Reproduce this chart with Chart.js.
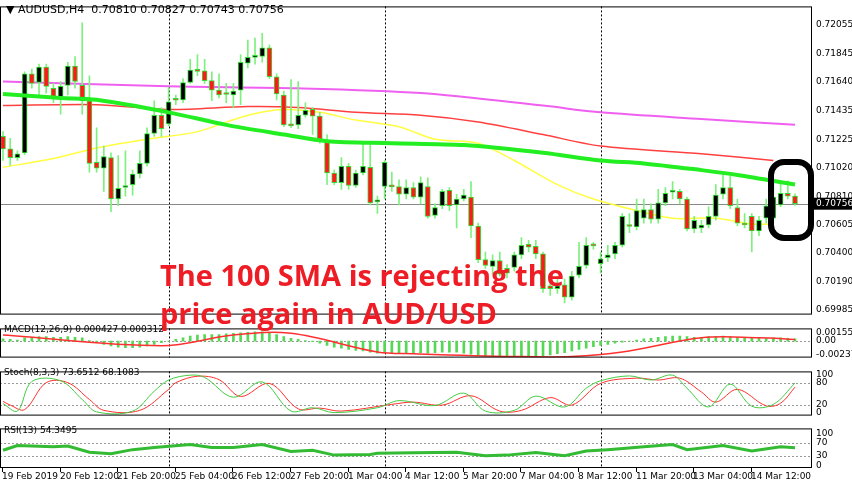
<!DOCTYPE html>
<html><head><meta charset="utf-8">
<script src="https://cdn.jsdelivr.net/npm/chart.js@4/dist/chart.umd.min.js"></script>
<style>
body{margin:0;width:852px;height:485px;background:#fff;position:relative;overflow:hidden;font-family:"DejaVu Sans",sans-serif}
.w{position:absolute;left:0;width:852px}
.t{position:absolute;font-size:10px;color:#000;white-space:pre}
</style></head><body>
<div class="w" style="top:0;height:321px"><canvas id="main" width="852" height="321"></canvas></div>
<div class="w" style="top:322px;height:42px"><canvas id="macd" width="852" height="42"></canvas></div>
<div class="w" style="top:365px;height:57px"><canvas id="stoch" width="852" height="57"></canvas></div>
<div class="w" style="top:422px;height:63px"><canvas id="rsi" width="852" height="63"></canvas></div>
<div class="t" style="left:6px;top:3px;font-size:11px">▼ AUDUSD,H4  0.70810 0.70827 0.70743 0.70756</div>
<div class="t" style="left:4px;top:324px;font-size:9px">MACD(12,26,9) 0.000427 0.000312</div>
<div class="t" style="left:4px;top:367px;font-size:9px">Stoch(8,3,3) 73.6512 68.1083</div>
<div class="t" style="left:4px;top:425px;font-size:9px">RSI(13) 54.3495</div>
<div style="position:absolute;left:768px;top:159px;width:34px;height:70px;border:6px solid #000;border-radius:16px"></div>
<div style="position:absolute;left:160px;top:256px;font:bold 29px 'Open Sans',sans-serif;color:#ee1c25;line-height:38px;white-space:pre">The 100 SMA is rejecting the
price again in AUD/USD</div>
<script>
const opens=[0.71245,0.71154,0.71091,0.71126,0.71700,0.71637,0.71749,0.71595,0.71532,0.71616,0.71756,0.71616,0.71504,0.71056,0.71014,0.71091,0.70790,0.70874,0.70895,0.70972,0.71049,0.71266,0.71399,0.71336,0.71511,0.71511,0.71637,0.71721,0.71721,0.71651,0.71581,0.71553,0.71546,0.71581,0.71777,0.71819,0.71826,0.71889,0.71679,0.71546,0.71336,0.71329,0.71399,0.71441,0.71392,0.71210,0.70979,0.70909,0.71028,0.70888,0.70979,0.71021,0.70769,0.70881,0.70881,0.70881,0.70825,0.70874,0.70804,0.70881,0.70671,0.70741,0.70853,0.70748,0.70790,0.70804,0.70594,0.70349,0.70300,0.70342,0.70286,0.70293,0.70384,0.70461,0.70447,0.70391,0.70160,0.70139,0.70167,0.70076,0.70237,0.70307,0.70454,0.70321,0.70363,0.70391,0.70454,0.70594,0.70587,0.70650,0.70713,0.70643,0.70762,0.70839,0.70846,0.70790,0.70573,0.70580,0.70601,0.70664,0.70825,0.70874,0.70727,0.70608,0.70664,0.70559,0.70650,0.70650,0.70748,0.70832,0.70811];
const highs=[0.71280,0.71231,0.71140,0.71714,0.71735,0.71770,0.71770,0.71630,0.71644,0.71784,0.71826,0.72071,0.71686,0.71308,0.71175,0.71126,0.71105,0.71140,0.71000,0.71140,0.71308,0.71504,0.71455,0.71602,0.71546,0.71665,0.71805,0.71840,0.71805,0.71714,0.71700,0.71630,0.71630,0.71840,0.71945,0.71959,0.71994,0.71910,0.71700,0.71574,0.71658,0.71644,0.71490,0.71455,0.71420,0.71259,0.71000,0.71091,0.71049,0.71000,0.71210,0.71210,0.70811,0.71070,0.70986,0.70930,0.70930,0.70909,0.70951,0.70944,0.70755,0.70860,0.70874,0.70825,0.70860,0.70916,0.70615,0.70405,0.70384,0.70405,0.70314,0.70405,0.70510,0.70489,0.70489,0.70405,0.70195,0.70209,0.70209,0.70265,0.70475,0.70510,0.70475,0.70405,0.70454,0.70475,0.70685,0.70685,0.70790,0.70790,0.70755,0.70860,0.70874,0.70916,0.70860,0.70804,0.70664,0.70636,0.70734,0.70895,0.70986,0.70979,0.70790,0.70685,0.70685,0.70664,0.70790,0.70895,0.70916,0.70923,0.70827];
const lows=[0.71070,0.71035,0.71070,0.71112,0.71595,0.71546,0.71560,0.71490,0.71406,0.71546,0.71595,0.71406,0.70986,0.70986,0.70846,0.70699,0.70741,0.70811,0.70818,0.70944,0.71028,0.71245,0.71245,0.71322,0.71476,0.71490,0.71630,0.71686,0.71630,0.71504,0.71525,0.71490,0.71455,0.71476,0.71742,0.71770,0.71784,0.71665,0.71511,0.71315,0.71308,0.71301,0.71385,0.71259,0.71196,0.70895,0.70895,0.70860,0.70860,0.70874,0.70965,0.70748,0.70685,0.70790,0.70846,0.70748,0.70790,0.70790,0.70755,0.70650,0.70650,0.70720,0.70706,0.70580,0.70776,0.70510,0.70328,0.70286,0.70244,0.70230,0.70216,0.70265,0.70356,0.70405,0.70356,0.70111,0.70090,0.70104,0.70034,0.70055,0.70216,0.70286,0.70426,0.70251,0.70335,0.70356,0.70440,0.70545,0.70566,0.70615,0.70615,0.70615,0.70741,0.70790,0.70755,0.70559,0.70545,0.70545,0.70580,0.70636,0.70790,0.70720,0.70594,0.70580,0.70405,0.70524,0.70615,0.70636,0.70734,0.70790,0.70743];
const closes=[0.71154,0.71091,0.71119,0.71700,0.71630,0.71749,0.71609,0.71532,0.71609,0.71756,0.71644,0.71504,0.71049,0.71014,0.71098,0.70790,0.70867,0.70888,0.70972,0.71049,0.71266,0.71399,0.71301,0.71497,0.71508,0.71637,0.71728,0.71718,0.71651,0.71581,0.71546,0.71550,0.71574,0.71784,0.71819,0.71833,0.71889,0.71679,0.71553,0.71329,0.71322,0.71399,0.71434,0.71392,0.71210,0.70979,0.70909,0.71028,0.70888,0.70979,0.71028,0.70762,0.70783,0.71056,0.70878,0.70825,0.70874,0.70804,0.70909,0.70664,0.70727,0.70846,0.70741,0.70790,0.70818,0.70594,0.70349,0.70307,0.70342,0.70244,0.70251,0.70384,0.70454,0.70440,0.70391,0.70139,0.70139,0.70160,0.70076,0.70230,0.70300,0.70454,0.70450,0.70356,0.70384,0.70454,0.70664,0.70590,0.70706,0.70713,0.70643,0.70762,0.70832,0.70846,0.70790,0.70573,0.70636,0.70601,0.70664,0.70818,0.70874,0.70741,0.70615,0.70601,0.70559,0.70636,0.70741,0.70804,0.70832,0.70811,0.70756];
// moving averages: [bar, value]
const smaMagenta=[[1,0.71644],[24,0.71609],[42,0.71595],[59,0.71560],[76,0.71469],[84,0.71420],[98,0.71371],[111,0.71329]];
const smaRed=[[1,0.71469],[14,0.71476],[24,0.71441],[35,0.71462],[42,0.71455],[50,0.71420],[59,0.71399],[67,0.71350],[76,0.71259],[84,0.71175],[98,0.71119],[108,0.71070]];
const sma100=[[1,0.71553],[9,0.71525],[14,0.71511],[24,0.71420],[32,0.71329],[40,0.71259],[46,0.71210],[55,0.71196],[65,0.71182],[76,0.71126],[84,0.71070],[90,0.71049],[98,0.71000],[103,0.70965],[111,0.70895]];
const smaYellow=[[1,0.71021],[8,0.71084],[14,0.71161],[21,0.71224],[28,0.71280],[35,0.71399],[40,0.71441],[45,0.71420],[50,0.71364],[56,0.71315],[61,0.71224],[67,0.71196],[72,0.71070],[78,0.70895],[83,0.70790],[89,0.70706],[94,0.70650],[100,0.70650],[105,0.70608],[108,0.70608]];
const priceTicks=[0.72055,0.71845,0.71640,0.71435,0.71225,0.71020,0.70810,0.70605,0.70400,0.70190,0.69985];
const lastPrice=0.70756;
const macdHist=[0.0004,0.0003,0.0002,0.0006,0.0007,0.0008,0.0008,0.0007,0.0007,0.0008,0.0007,0.0006,0.0001,-0.0003,
-0.0006,-0.0009,-0.0011,-0.0012,-0.0012,-0.0011,-0.0009,-0.0006,-0.0003,
0.0000,0.0003,0.0006,0.0009,0.0011,0.0012,0.0012,0.0012,0.0013,0.0014,0.0015,0.0016,0.0017,0.0017,0.0015,0.0012,0.0008,0.0005,0.0003,0.0001,-0.0001,
-0.0004,-0.0008,-0.0011,-0.0013,-0.0015,-0.0017,-0.0018,-0.0020,-0.0022,-0.0021,
-0.0021,-0.0021,-0.0021,-0.0022,-0.0021,-0.0022,-0.0021,-0.0020,-0.0020,-0.0020,
-0.0022,-0.0024,-0.0026,-0.0027,-0.0028,-0.0028,-0.0028,-0.0028,-0.0028,-0.0027,
-0.0027,-0.0027,-0.0025,-0.0023,-0.0021,-0.0018,-0.0015,-0.0013,-0.0010,
-0.0008,-0.0006,-0.0004,-0.0002,0.0000,0.0002,0.0004,0.0005,0.0007,0.0008,0.0009,0.0009,0.0008,0.0007,0.0007,0.0008,0.0008,0.0009,0.0008,0.0007,0.0006,0.0005,0.0005,0.0005,0.0006,0.0006,0.0005,0.0004];
const macdSignal=[[1,0.0011],[23,-0.00085],[33,0.0011],[41,0.0014],[53,-0.0020],[58,-0.0023],[72,-0.0028],[80,-0.0028],[87,-0.0020],[98,0.0006],[106,0.0006],[111,0.0003]];
const macdTicks=[0.001559,0,-0.002377];
const stochMain=[[1,24],[3,4],[5,83],[9,85],[12,35],[14,2],[19,4],[22,57],[24,87],[27,100],[29,94],[33,41],[37,82],[41,4],[44,13],[47,0],[53,13],[56,32],[61,19],[65,52],[68,4],[72,6],[75,44],[79,15],[82,65],[84,85],[88,98],[91,87],[94,100],[96,65],[99,15],[102,76],[105,17],[108,22],[111,79]];
const stochSignal=[[1,30],[2,20],[4,8],[7,80],[10,80],[13,35],[15,6],[20,6],[24,62],[25,80],[28,97],[31,88],[34,43],[38,78],[42,10],[45,12],[48,4],[55,22],[58,28],[62,20],[66,45],[70,4],[73,6],[77,40],[80,20],[84,78],[89,92],[92,87],[95,92],[98,55],[100,28],[103,62],[107,18],[109,25],[111,68]];
const rsiLine=[[1,47],[3,62],[8,58],[10,60],[13,41],[16,36],[19,49],[22,56],[27,65],[30,56],[33,56],[37,65],[41,43],[44,47],[47,32],[52,34],[53,38],[58,39],[64,41],[68,30],[71,32],[75,40],[79,30],[82,45],[85,49],[90,58],[94,65],[96,49],[101,62],[105,45],[109,58],[111,55]];
const dateLabels=['19 Feb 2019','20 Feb 12:00','21 Feb 20:00','25 Feb 04:00','26 Feb 12:00','27 Feb 20:00','1 Mar 04:00','4 Mar 12:00','5 Mar 20:00','7 Mar 04:00','8 Mar 12:00','11 Mar 20:00','13 Mar 04:00','14 Mar 12:00'];
const dateBars=[1,9,17,25,33,41,49,57,65,73,81,89,97,105];
const sepBars=[24,54,84];

const XMIN=0.58,XMAX=113.36;
const pts=a=>a.map(p=>({x:p[0],y:p[1]}));
const bars=opens.map((o,i)=>i+1);
const frame={id:'frame',
 beforeDatasetsDraw(c){const a=c.chartArea,x=c.scales.x,ctx=c.ctx;ctx.save();ctx.strokeStyle='#000';ctx.setLineDash([2,2]);ctx.lineWidth=1;
  sepBars.forEach(b=>{const px=Math.round(x.getPixelForValue(b))+0.5;ctx.beginPath();ctx.moveTo(px,a.top);ctx.lineTo(px,a.bottom);ctx.stroke();});ctx.restore();},
 afterDraw(c){const a=c.chartArea,ctx=c.ctx;ctx.save();ctx.strokeStyle='#000';ctx.lineWidth=1;ctx.strokeRect(a.left+0.5,a.top+0.5,a.width-1,a.height-1);ctx.restore();}};
function yAxis(min,max,ticks,fmt){return {position:'right',min,max,grid:{display:false,drawTicks:true,tickLength:3,tickColor:'#000'},border:{display:false},
 afterBuildTicks:s=>{s.ticks=ticks.map(v=>({value:v}));},afterFit:s=>{s.width=40;},
 ticks:{color:'#000',font:{size:9,family:'DejaVu Sans'},padding:1,callback:fmt,autoSkip:false}};}
const xAxis={type:'linear',min:XMIN,max:XMAX,display:false,offset:false};
const base={responsive:false,maintainAspectRatio:false,animation:false,devicePixelRatio:1,plugins:{legend:{display:false},tooltip:{enabled:false}},layout:{padding:0}};

const bodyColors=opens.map((o,i)=>closes[i]>=o?'#000':'#ff1a1a');
const hl={id:'hl',beforeDatasetsDraw(c){const y=c.scales.y,a=c.chartArea,ctx=c.ctx;const py=Math.round(y.getPixelForValue(lastPrice))+0.5;
 ctx.save();ctx.strokeStyle='#888';ctx.beginPath();ctx.moveTo(a.left,py);ctx.lineTo(a.right,py);ctx.stroke();ctx.restore();},
 afterDraw(c){const y=c.scales.y,a=c.chartArea,ctx=c.ctx;const py=y.getPixelForValue(lastPrice);ctx.save();ctx.fillStyle='#000';ctx.fillRect(a.right+1,py-6,40,12);
 ctx.fillStyle='#fff';ctx.font='9px DejaVu Sans';ctx.textBaseline='middle';ctx.fillText(lastPrice.toFixed(5),a.right+4,py);ctx.restore();}};
new Chart(document.getElementById('main'),{type:'bar',data:{datasets:[
 {type:'line',data:pts(smaMagenta),borderColor:'#f060f0',borderWidth:2,pointRadius:0,tension:0.3,order:5},
 {type:'line',data:pts(smaRed),borderColor:'#ff4040',borderWidth:1.5,pointRadius:0,tension:0.3,order:5},
 {type:'line',data:pts(smaYellow),borderColor:'#ffff40',borderWidth:1.5,pointRadius:0,tension:0.3,order:5},
 {type:'line',data:pts(sma100),borderColor:'#22ee22',borderWidth:4,pointRadius:0,tension:0.3,order:0},
 {data:bars.map((b,i)=>({x:b,y:[lows[i],highs[i]]})),backgroundColor:'#7ef07e',barThickness:1,grouped:false,order:2},
 {data:bars.map((b,i)=>({x:b,y:[opens[i],closes[i]]})),backgroundColor:bodyColors,borderColor:'#33dd33',borderWidth:1,borderSkipped:false,barThickness:5,minBarLength:2,grouped:false,order:1}
]},options:Object.assign({},base,{scales:{x:xAxis,y:yAxis(0.6995,0.7219,priceTicks,v=>v.toFixed(5))}}),plugins:[frame,hl]});

const lvl=(vals)=>({id:'lvl',beforeDatasetsDraw(c){const y=c.scales.y,a=c.chartArea,ctx=c.ctx;ctx.save();ctx.strokeStyle='#999';ctx.setLineDash([2,2]);
 vals.forEach(v=>{const py=Math.round(y.getPixelForValue(v))+0.5;ctx.beginPath();ctx.moveTo(a.left,py);ctx.lineTo(a.right,py);ctx.stroke();});ctx.restore();}});

new Chart(document.getElementById('macd'),{type:'bar',data:{datasets:[
 {type:'line',data:pts(macdSignal),borderColor:'#ff3030',borderWidth:1.5,pointRadius:0,tension:0.35,order:0},
 {data:bars.map((b,i)=>({x:b,y:macdHist[i]})),backgroundColor:'#55d855',barThickness:2,order:1}
]},options:Object.assign({},base,{scales:{x:xAxis,y:yAxis(-0.0030,0.0023,macdTicks,v=>v===0?'0.00':v.toFixed(6))}}),plugins:[frame,lvl([0])]});

new Chart(document.getElementById('stoch'),{type:'line',data:{datasets:[
 {data:pts(stochMain),borderColor:'#44cc44',borderWidth:1,pointRadius:0,tension:0.35},
 {data:pts(stochSignal),borderColor:'#ff3030',borderWidth:1,pointRadius:0,tension:0.35}
]},options:Object.assign({},base,{scales:{x:xAxis,y:yAxis(-8,110,[100,80,20,0],v=>String(v))}}),plugins:[frame,lvl([80,20])]});

const dates={id:'dates',afterDraw(c){const x=c.scales.x,a=c.chartArea,ctx=c.ctx;ctx.save();ctx.fillStyle='#000';ctx.strokeStyle='#000';ctx.font='9px DejaVu Sans';ctx.textBaseline='top';
 dateBars.forEach((b,i)=>{const px=Math.round(x.getPixelForValue(b))-1;ctx.beginPath();ctx.moveTo(px+0.5,a.bottom);ctx.lineTo(px+0.5,a.bottom+4);ctx.stroke();ctx.fillText(dateLabels[i],px,a.bottom+4);});ctx.restore();}};
new Chart(document.getElementById('rsi'),{type:'line',data:{datasets:[
 {data:pts(rsiLine),borderColor:'#33bb33',borderWidth:3,pointRadius:0,tension:0},
]},options:Object.assign({},base,{layout:{padding:{bottom:17}},scales:{x:xAxis,y:yAxis(-8,115,[100,70,30,0],v=>String(v))}}),plugins:[frame,lvl([70,30]),dates]});
</script></body></html>
